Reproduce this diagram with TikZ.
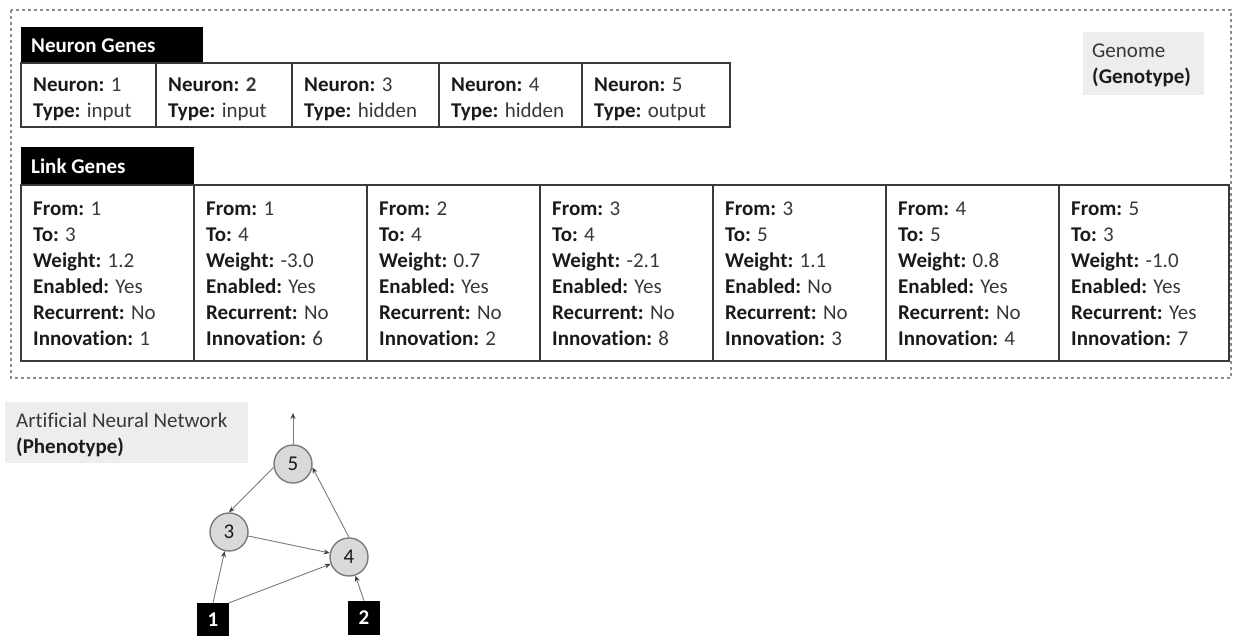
\documentclass[tikz,border=0pt]{standalone}
\usepackage{fontspec}
\setmainfont{Carlito}[Ligatures=NoCommon]
\usetikzlibrary{arrows.meta}
\definecolor{rulec}{HTML}{3A3A3A}
\definecolor{labc}{HTML}{1A1A1A}
\definecolor{valc}{HTML}{383838}
\definecolor{dashc}{HTML}{8C8C8C}
\definecolor{tagfill}{HTML}{EDEDED}
\definecolor{nodefill}{HTML}{D9D9D9}
\definecolor{nodeline}{HTML}{7A7A7A}
\definecolor{linkc}{HTML}{7A7A7A}
\tikzset{
  txt/.style={anchor=base west, inner sep=0pt, font=\fontsize{21}{26}\selectfont, text=valc},
  headtxt/.style={anchor=base west, inner sep=0pt, font=\fontsize{21}{26}\selectfont\bfseries, text=white},
  cellrule/.style={draw=rulec, line width=1.5pt},
  neuron/.style={circle, minimum size=38pt, inner sep=0pt, fill=nodefill, draw=nodeline, line width=1.4pt,
    font=\fontsize{21}{26}\selectfont, text=labc},
  inputnode/.style={rectangle, minimum width=32pt, minimum height=34pt, inner sep=0pt, fill=black,
    font=\fontsize{21}{26}\selectfont\bfseries, text=white},
  link/.style={draw=linkc, line width=0.9pt, -{Stealth[length=6pt,width=5pt,color=black!75]}},
}
\newcommand{\lab}[1]{\textbf{\color{labc}#1}}
\begin{document}
\begin{tikzpicture}[x=1pt,y=-1pt]
\useasboundingbox (0,0) rectangle (1236,635);
\clip (0,0) rectangle (1236,635);

% genotype frame
\draw[dashc, line width=1.2pt, dash pattern=on 3pt off 3pt] (11,10) rectangle (1231,378);

% genome tag
\fill[tagfill] (1083,32) rectangle (1204,95);
\node[txt, text=valc] (genome) at (1092,57) {Genome};
\node[txt, text=labc, font=\fontsize{21}{26}\selectfont\bfseries] (genotype) at (1092,83) {(Genotype)};

% neuron genes
\fill[black] (21,27) rectangle (203,63);
\node[headtxt] (nghead) at (31,52) {Neuron Genes};
\foreach \xa/\xb/\n/\t [count=\k] in {21/156/1/input, 156/292/{\textbf{2}}/input, 292/439/3/hidden, 439/582/4/hidden, 582/730/5/output}{
  \draw[cellrule] (\xa,63) rectangle (\xb,127);
  \node[txt] (neu\k) at ({\xa+12},91) {\lab{Neuron:} \n};
  \node[txt] (typ\k) at ({\xa+12},117) {\lab{Type:} \t};
}

% link genes
\fill[black] (21,147) rectangle (194,185);
\node[headtxt] (lghead) at (31,173) {Link Genes};
\foreach \f/\t/\w/\e/\r/\i [count=\k from 0] in {1/3/1.2/Yes/No/1, 1/4/-3.0/Yes/No/6, 2/4/0.7/Yes/No/2, 3/4/-2.1/Yes/No/8, 3/5/1.1/No/No/3, 4/5/0.8/Yes/No/4, 5/3/-1.0/Yes/Yes/7}{
  \pgfmathsetmacro{\xa}{21+173*\k}
  \pgfmathsetmacro{\xb}{min(21+173*(\k+1),1229)}
  \draw[cellrule] (\xa,185) rectangle (\xb,361);
  \node[txt] (from\k) at ({\xa+12},215) {\lab{From:} \f};
  \node[txt] (to\k)   at ({\xa+12},241) {\lab{To:} \t};
  \node[txt] (wt\k)   at ({\xa+12},267) {\lab{Weight:} \w};
  \node[txt] (en\k)   at ({\xa+12},293) {\lab{Enabled:} \e};
  \node[txt] (rec\k)  at ({\xa+12},319) {\lab{Recurrent:} \r};
  \node[txt] (inn\k)  at ({\xa+12},345) {\lab{Innovation:} \i};
}

% phenotype tag
\fill[tagfill] (5,402) rectangle (248,463);
\node[txt] (ann) at (16,427) {Artificial Neural Network};
\node[txt, text=labc, font=\fontsize{21}{26}\selectfont\bfseries] (pheno) at (16,453) {(Phenotype)};

% network
\node[neuron] (n5) at (293,464) {5};
\node[neuron] (n3) at (229,532) {3};
\node[neuron] (n4) at (349,557) {4};
\node[inputnode] (n1) at (213,620) {1};
\node[inputnode] (n2) at (364,618) {2};
\coordinate (out) at (293,413);

\draw[link] (n5.north) -- (out);
\draw[link] (n5.190) -- (n3.north);
\draw[link] (n3) -- (n4);
\draw[link] (n1.north) -- (n3);
\draw[link] (n1.north east) -- (n4);
\draw[link] (n2.north) -- (n4);
\draw[link] (n4.north) -- (n5.-10);
\end{tikzpicture}
\end{document}
